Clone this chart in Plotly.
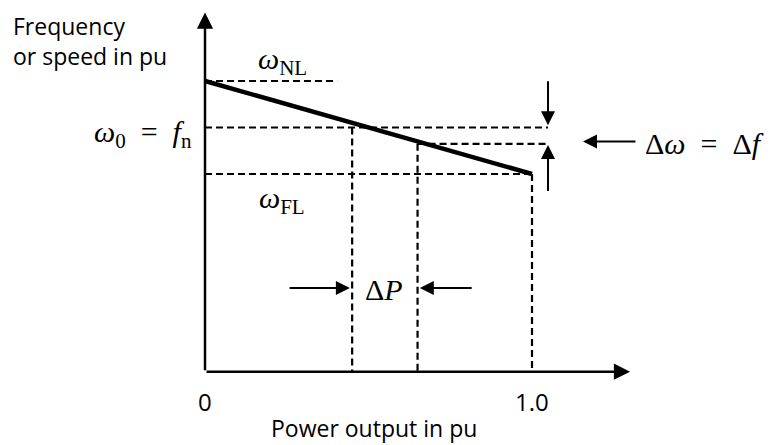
import plotly.graph_objects as go

# Governor droop characteristic: frequency (pu) against power output (pu)
power_droop = [0.0, 1.0]
freq_droop = [1.04, 0.96]

# Reference levels
freq_no_load = 1.04
freq_nominal = 1.0
freq_shifted = 0.986
freq_full_load = 0.96
freq_axis = 0.79

# Operating points
power_a = 0.45
power_b = 0.65
power_rated = 1.0

# Axis extents
power_axis_end = 1.30
freq_axis_end = 1.099

tick_vals = [0.0, 1.0]
tick_text = ["0", "1.0"]

# Canvas scale (px per pu) and anchor of the frequency axis
PX_X = 327.0
PX_Y = 1162.5
W, H = 771, 445
X0_PX, Y_NL_PX = 205, 81

x_range = [-X0_PX / PX_X, (W - X0_PX) / PX_X]
y_range = [freq_no_load - (H - Y_NL_PX) / PX_Y, freq_no_load + Y_NL_PX / PX_Y]


def px_x(p):
    return (p - X0_PX) / PX_X


def px_y(p):
    return freq_no_load - (p - Y_NL_PX) / PX_Y


fig = go.Figure()

dash_style = dict(color="black", width=2.2, dash="7px,4px")


def dashed(xs, ys):
    fig.add_trace(go.Scatter(x=xs, y=ys, mode="lines", line=dash_style,
                             hoverinfo="skip", showlegend=False))


# Horizontal dashed references
dashed([0.0, 0.404], [freq_no_load, freq_no_load])
dashed([0.0, 1.049], [freq_nominal, freq_nominal])
dashed([power_b, 1.049], [freq_shifted, freq_shifted])
dashed([0.0, power_rated], [freq_full_load, freq_full_load])
# Vertical dashed drops
dashed([power_a, power_a], [freq_nominal, freq_axis])
dashed([power_b, power_b], [freq_shifted, freq_axis])
dashed([power_rated, power_rated], [freq_full_load, freq_axis])

# Droop line
fig.add_trace(go.Scatter(x=power_droop, y=freq_droop, mode="lines",
                         line=dict(color="black", width=4.5),
                         hoverinfo="skip", showlegend=False))


def arrow(x0, y0, x1, y1, width=2, size=1.4):
    fig.add_annotation(x=x1, y=y1, ax=x0, ay=y0, xref="x", yref="y",
                       axref="x", ayref="y", text="", showarrow=True,
                       arrowhead=2, arrowsize=size, arrowwidth=width,
                       arrowcolor="black", standoff=0, startstandoff=0)


# Axes with arrowheads
arrow(0.0, freq_axis, 0.0, freq_axis_end, width=2.5, size=1.3)
arrow(0.0, freq_axis, power_axis_end, freq_axis, width=2.5, size=1.3)

# Delta-omega markers
arrow(1.049, 1.041, 1.049, 1.002)
arrow(1.049, 0.944, 1.049, 0.985)
arrow(1.321, 0.988, 1.156, 0.988)

# Delta-P markers
arrow(0.254, 0.862, 0.443, 0.862)
arrow(0.820, 0.862, 0.657, 0.862)

serif = dict(family="Liberation Serif", size=30, color="black")
sans = dict(family="Open Sans", size=23, color="black")
SP = "\u2002"


def label(x, y, text, font, xanchor="center", yanchor="middle"):
    fig.add_annotation(x=x, y=y, xref="x", yref="y", text=text, font=font,
                       showarrow=False, xanchor=xanchor, yanchor=yanchor)


label(px_x(282), px_y(61), "<i>ω</i><sub>NL</sub>", serif)
label(px_x(282), px_y(200), "<i>ω</i><sub>FL</sub>", serif)
label(px_x(194), px_y(134), f"<i>ω</i><sub>0</sub>{SP}={SP}<i>f</i><sub>n</sub>",
      serif, xanchor="right")
label(px_x(643), px_y(143), f"Δ<i>ω</i>{SP}={SP}Δ<i>f</i>", serif, xanchor="left")
label(px_x(384), px_y(289), "Δ<i>P</i>", serif)

for tv, tt in zip(tick_vals, tick_text):
    label(tv, px_y(401), tt, dict(family="Open Sans", size=24, color="black"))

fig.add_annotation(x=px_x(374), y=px_y(428), xref="x", yref="y",
                   text="Power output in pu", font=sans, showarrow=False)
fig.add_annotation(x=px_x(11), y=px_y(8), xref="x", yref="y",
                   text="Frequency<br>or speed in pu", font=sans,
                   showarrow=False, xanchor="left", yanchor="top", align="left")

fig.update_layout(
    width=W, height=H, margin=dict(l=0, r=0, t=0, b=0),
    paper_bgcolor="white", plot_bgcolor="white",
    xaxis=dict(range=x_range, visible=False, fixedrange=True),
    yaxis=dict(range=y_range, visible=False, fixedrange=True),
)

fig.write_html("out.html")
